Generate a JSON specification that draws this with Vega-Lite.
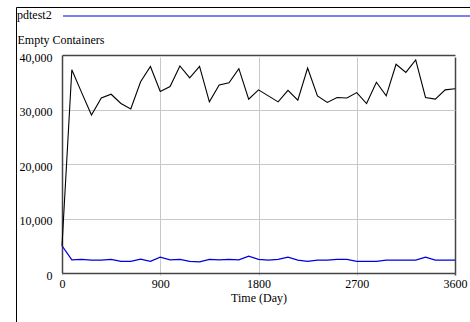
{
  "$schema": "https://vega.github.io/schema/vega-lite/v6.json",
  "width": 455,
  "height": 316,
  "autosize": "none",
  "padding": {"left": 16, "top": 7, "right": 0, "bottom": 0},
  "background": "white",
  "config": {"view": {"stroke": "black", "strokeWidth": 1}, "font": "Liberation Serif"},
  "data": {"values": [
    {"time": 0, "run": "current", "containers": 5000},
    {"time": 90, "run": "current", "containers": 37300},
    {"time": 180, "run": "current", "containers": 33100},
    {"time": 270, "run": "current", "containers": 29000},
    {"time": 360, "run": "current", "containers": 32100},
    {"time": 450, "run": "current", "containers": 32800},
    {"time": 540, "run": "current", "containers": 31100},
    {"time": 630, "run": "current", "containers": 30100},
    {"time": 720, "run": "current", "containers": 35100},
    {"time": 810, "run": "current", "containers": 37900},
    {"time": 900, "run": "current", "containers": 33300},
    {"time": 990, "run": "current", "containers": 34200},
    {"time": 1080, "run": "current", "containers": 38000},
    {"time": 1170, "run": "current", "containers": 35800},
    {"time": 1260, "run": "current", "containers": 37900},
    {"time": 1350, "run": "current", "containers": 31400},
    {"time": 1440, "run": "current", "containers": 34500},
    {"time": 1530, "run": "current", "containers": 34900},
    {"time": 1620, "run": "current", "containers": 37500},
    {"time": 1710, "run": "current", "containers": 31900},
    {"time": 1800, "run": "current", "containers": 33600},
    {"time": 1890, "run": "current", "containers": 32500},
    {"time": 1980, "run": "current", "containers": 31400},
    {"time": 2070, "run": "current", "containers": 33500},
    {"time": 2160, "run": "current", "containers": 31700},
    {"time": 2250, "run": "current", "containers": 37600},
    {"time": 2340, "run": "current", "containers": 32500},
    {"time": 2430, "run": "current", "containers": 31300},
    {"time": 2520, "run": "current", "containers": 32200},
    {"time": 2610, "run": "current", "containers": 32100},
    {"time": 2700, "run": "current", "containers": 33100},
    {"time": 2790, "run": "current", "containers": 31100},
    {"time": 2880, "run": "current", "containers": 35000},
    {"time": 2970, "run": "current", "containers": 32500},
    {"time": 3060, "run": "current", "containers": 38300},
    {"time": 3150, "run": "current", "containers": 36800},
    {"time": 3240, "run": "current", "containers": 39100},
    {"time": 3330, "run": "current", "containers": 32200},
    {"time": 3420, "run": "current", "containers": 31900},
    {"time": 3510, "run": "current", "containers": 33600},
    {"time": 3600, "run": "current", "containers": 33800},
    {"time": 0, "run": "pdtest2", "containers": 5000},
    {"time": 90, "run": "pdtest2", "containers": 2400},
    {"time": 180, "run": "pdtest2", "containers": 2500},
    {"time": 270, "run": "pdtest2", "containers": 2350},
    {"time": 360, "run": "pdtest2", "containers": 2350},
    {"time": 450, "run": "pdtest2", "containers": 2500},
    {"time": 540, "run": "pdtest2", "containers": 2150},
    {"time": 630, "run": "pdtest2", "containers": 2150},
    {"time": 720, "run": "pdtest2", "containers": 2550},
    {"time": 810, "run": "pdtest2", "containers": 2150},
    {"time": 900, "run": "pdtest2", "containers": 2900},
    {"time": 990, "run": "pdtest2", "containers": 2400},
    {"time": 1080, "run": "pdtest2", "containers": 2500},
    {"time": 1170, "run": "pdtest2", "containers": 2150},
    {"time": 1260, "run": "pdtest2", "containers": 2050},
    {"time": 1350, "run": "pdtest2", "containers": 2500},
    {"time": 1440, "run": "pdtest2", "containers": 2400},
    {"time": 1530, "run": "pdtest2", "containers": 2500},
    {"time": 1620, "run": "pdtest2", "containers": 2400},
    {"time": 1710, "run": "pdtest2", "containers": 3100},
    {"time": 1800, "run": "pdtest2", "containers": 2500},
    {"time": 1890, "run": "pdtest2", "containers": 2350},
    {"time": 1980, "run": "pdtest2", "containers": 2500},
    {"time": 2070, "run": "pdtest2", "containers": 2900},
    {"time": 2160, "run": "pdtest2", "containers": 2350},
    {"time": 2250, "run": "pdtest2", "containers": 2150},
    {"time": 2340, "run": "pdtest2", "containers": 2350},
    {"time": 2430, "run": "pdtest2", "containers": 2350},
    {"time": 2520, "run": "pdtest2", "containers": 2500},
    {"time": 2610, "run": "pdtest2", "containers": 2500},
    {"time": 2700, "run": "pdtest2", "containers": 2150},
    {"time": 2790, "run": "pdtest2", "containers": 2150},
    {"time": 2880, "run": "pdtest2", "containers": 2150},
    {"time": 2970, "run": "pdtest2", "containers": 2350},
    {"time": 3060, "run": "pdtest2", "containers": 2350},
    {"time": 3150, "run": "pdtest2", "containers": 2350},
    {"time": 3240, "run": "pdtest2", "containers": 2350},
    {"time": 3330, "run": "pdtest2", "containers": 2900},
    {"time": 3420, "run": "pdtest2", "containers": 2350},
    {"time": 3510, "run": "pdtest2", "containers": 2350},
    {"time": 3600, "run": "pdtest2", "containers": 2350}
  ]},
  "encoding": {
    "x": {
      "field": "time", "type": "quantitative",
      "scale": {"domain": [0, 3600], "range": [46, 439], "nice": false, "zero": false},
      "axis": {
        "orient": "bottom", "offset": -50, "values": [0, 900, 1800, 2700, 3600], "format": "d",
        "title": "Time (Day)", "ticks": false, "labelPadding": 5, "labelFlush": false,
        "labelFont": "Liberation Serif", "labelFontSize": 12, "labelColor": "black",
        "titleFont": "Liberation Serif", "titleFontSize": 12, "titleFontWeight": "normal",
        "titleColor": "black", "titlePadding": 3,
        "domainColor": "#444444", "domainWidth": 1.5,
        "grid": true,
        "gridColor": {"condition": {"test": "datum.value === 3600", "value": "#444444"}, "value": "#c8c8c8"},
        "gridWidth": {"condition": {"test": "datum.value === 3600", "value": 1.5}, "value": 1}
      }
    },
    "y": {
      "field": "containers", "type": "quantitative",
      "scale": {"domain": [0, 40000], "range": [266, 48], "nice": false},
      "axis": {
        "orient": "left", "offset": -46, "values": [0, 10000, 20000, 30000, 40000],
        "format": ",d", "title": "Empty Containers", "titleAngle": 0, "titleAlign": "left",
        "titleBaseline": "alphabetic", "titleX": -45, "titleY": 36,
        "ticks": false, "labelPadding": 10, "labelOffset": 2, "labelFlush": false,
        "labelFont": "Liberation Serif", "labelFontSize": 12, "labelColor": "black",
        "titleFont": "Liberation Serif", "titleFontSize": 12, "titleFontWeight": "normal",
        "titleColor": "black",
        "domainColor": "#444444", "domainWidth": 1.5,
        "grid": true,
        "gridColor": {"condition": {"test": "datum.value === 40000", "value": "#444444"}, "value": "#c8c8c8"},
        "gridWidth": {"condition": {"test": "datum.value === 40000", "value": 1.5}, "value": 1}
      }
    }
  },
  "layer": [
    {
      "transform": [{"filter": "datum.run === 'current'"}],
      "mark": {"type": "line", "color": "black", "strokeWidth": 1.1}
    },
    {
      "transform": [{"filter": "datum.run === 'pdtest2'"}],
      "mark": {"type": "line", "strokeWidth": 1.3},
      "encoding": {
        "color": {
          "field": "run", "type": "nominal",
          "scale": {"domain": ["pdtest2"], "range": ["#0000dd"]},
          "legend": {
            "orient": "none", "legendX": 1, "legendY": 3, "padding": 0,
            "title": "pdtest2", "titleOrient": "left", "titleBaseline": "middle",
            "titleFont": "Liberation Serif", "titleFontSize": 12, "titleFontWeight": "normal",
            "titleColor": "black", "titlePadding": 10,
            "symbolType": "M-1,0H82", "symbolSize": 100, "symbolStrokeWidth": 2,
            "symbolOpacity": 0.5,
            "labelExpr": "''", "labelFontSize": 1
          }
        }
      }
    }
  ]
}
